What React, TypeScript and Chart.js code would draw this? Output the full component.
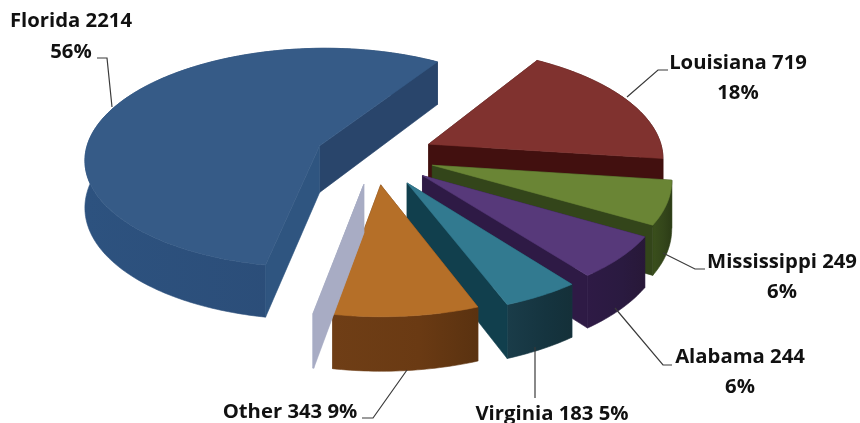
import React, { useEffect, useRef } from "react";
import { Chart, registerables } from "chart.js";

Chart.register(...registerables);

// Imports by origin state
const categories = ["Florida", "Louisiana", "Mississippi", "Alabama", "Virginia", "Other", ""];
const imports = [2214, 719, 249, 244, 183, 343, 2];
const shares = [56, 18, 6, 6, 5, 9, 0];

// Slice styling
const topColors = ["#365b87", "#80322f", "#6a8535", "#57397a", "#327a90", "#b56f28", "#a8acc4"];
const rimColors: string[][] = [
  ["#2d527f", "#2b4d78", "#264468"],
  ["#4a1413", "#42100f", "#3c0e0e"],
  ["#3a4f1c", "#33451a", "#2c3c16"],
  ["#2e1a45", "#2a1a40", "#281838"],
  ["#1a3c49", "#15343f", "#143039"],
  ["#6f3e16", "#6a3a13", "#5a3210"],
  ["#a8acc4", "#a8acc4", "#a8acc4"],
];
const startWallColors = ["#2f5580", "#42100f", "#33451a", "#2e1a45", "#113f4d", "#6a3a13", "#a8acc4"];
const endWallColors = ["#29456b", "#42100f", "#33451a", "#2e1a45", "#113f4d", "#6a3a13", "#a8acc4"];
const explode = [60, 60, 60, 62, 64, 60, 60];

// Pie projection
const RADIUS = 235;
const TILT = 0.47;
const PERSPECTIVE = 0.11;
const THICKNESS = 47;

// Callout text and leader lines
type Callout = { lines: string[]; x: number; y: number[]; leader: number[][] };
const callouts: Callout[] = [
  { lines: [`${categories[0]} ${imports[0]}`, `${shares[0]}%`], x: 71, y: [21, 52], leader: [[97, 58], [107, 58], [112, 107]] },
  { lines: [`${categories[1]} ${imports[1]}`, `${shares[1]}%`], x: 738, y: [63, 93], leader: [[668, 70], [658, 70], [627, 97]] },
  { lines: [`${categories[2]} ${imports[2]}`, `${shares[2]}%`], x: 782, y: [262, 292], leader: [[705, 269], [695, 269], [663, 253]] },
  { lines: [`${categories[3]} ${imports[3]}`, `${shares[3]}%`], x: 740, y: [357, 387], leader: [[672, 365], [663, 365], [615, 308]] },
  { lines: [`${categories[4]} ${imports[4]} ${shares[4]}%`], x: 552, y: [414], leader: [[535, 347], [535, 398]] },
  { lines: [`${categories[5]} ${imports[5]} ${shares[5]}%`], x: 290, y: [412], leader: [[407, 370], [373, 418], [362, 418]] },
];

type Pt = [number, number];

function sliceOutline(arc: any) {
  const o = arc.options.offset || 0;
  const mid = (arc.startAngle + arc.endAngle) / 2;
  const project = (px: number, py: number, lift: number): Pt => {
    const f = 1 / (1 - (PERSPECTIVE * py) / RADIUS);
    return [arc.x + px * f, arc.y + TILT * py * f + lift * f];
  };
  const ox = o * Math.cos(mid);
  const oy = o * Math.sin(mid);
  const rimAt = (a: number, lift: number) =>
    project(ox + arc.outerRadius * Math.cos(a), oy + arc.outerRadius * Math.sin(a), lift);
  const steps = Math.max(2, Math.ceil((arc.endAngle - arc.startAngle) * 60));
  const rim = (lift: number) => {
    const pts: Pt[] = [];
    for (let i = 0; i <= steps; i++) {
      pts.push(rimAt(arc.startAngle + ((arc.endAngle - arc.startAngle) * i) / steps, lift));
    }
    return pts;
  };
  return { tip: (lift: number) => project(ox, oy, lift), rim };
}

function fillPath(ctx: CanvasRenderingContext2D, pts: Pt[], fill: string | CanvasGradient) {
  ctx.beginPath();
  pts.forEach(([x, y], i) => (i ? ctx.lineTo(x, y) : ctx.moveTo(x, y)));
  ctx.closePath();
  ctx.fillStyle = fill;
  ctx.strokeStyle = fill;
  ctx.lineWidth = 0.6;
  ctx.fill();
  ctx.stroke();
}

// Replaces the flat arc drawing with an extruded, tilted version of the same arcs.
const extrudedPie = {
  id: "extrudedPie",
  beforeDatasetsDraw(chart: any) {
    const { ctx } = chart;
    const arcs = chart.getDatasetMeta(0).data;
    arcs.forEach((arc: any, i: number) => {
      const { tip, rim } = sliceOutline(arc);
      const topRim = rim(0);
      const lowRim = rim(THICKNESS);

      const a = topRim[0];
      const b = topRim[topRim.length - 1];
      const startWall = { pts: [tip(0), a, lowRim[0], tip(THICKNESS)] as Pt[], color: startWallColors[i], depth: a[1], front: Math.cos(arc.startAngle) < 0 };
      const endWall = { pts: [tip(0), b, lowRim[lowRim.length - 1], tip(THICKNESS)] as Pt[], color: endWallColors[i], depth: b[1], front: Math.cos(arc.endAngle) > 0 };
      const walls = [startWall, endWall].sort((p, q) => p.depth - q.depth);

      // Walls facing away go behind the rim, walls facing the viewer in front of it.
      walls.filter((w) => !w.front).forEach((w) => fillPath(ctx, w.pts, w.color));

      const xs = topRim.map((p) => p[0]);
      const grad = ctx.createLinearGradient(Math.min(...xs), 0, Math.max(...xs), 0);
      grad.addColorStop(0, rimColors[i][0]);
      grad.addColorStop(0.6, rimColors[i][1]);
      grad.addColorStop(1, rimColors[i][2]);
      fillPath(ctx, [...topRim, ...lowRim.slice().reverse()], grad);

      walls.filter((w) => w.front).forEach((w) => fillPath(ctx, w.pts, w.color));

      fillPath(ctx, [tip(0), ...topRim], topColors[i]);
    });
    return false;
  },
  afterDraw(chart: any) {
    const { ctx } = chart;
    ctx.save();
    ctx.strokeStyle = "#3a3a3a";
    ctx.lineWidth = 1.2;
    callouts.forEach((c) => {
      ctx.beginPath();
      c.leader.forEach(([x, y], i) => (i ? ctx.lineTo(x, y) : ctx.moveTo(x, y)));
      ctx.stroke();
    });
    ctx.fillStyle = "#111111";
    ctx.font = "bold 20.3px 'Open Sans'";
    ctx.textAlign = "center";
    ctx.textBaseline = "middle";
    callouts.forEach((c) => c.lines.forEach((t, i) => ctx.fillText(t, c.x, c.y[i])));
    ctx.restore();
  },
};

export default function App() {
  const ref = useRef<HTMLCanvasElement>(null);
  useEffect(() => {
    document.body.style.margin = "0";
    const chart = new Chart(ref.current!, {
      type: "pie",
      data: {
        labels: categories,
        datasets: [{ data: imports, backgroundColor: topColors, offset: explode, borderWidth: 0 } as any],
      },
      options: {
        responsive: false,
        animation: false,
        rotation: 190.5,
        radius: RADIUS,
        layout: { padding: { left: 0, top: 0, right: 110, bottom: 111 } },
        plugins: { legend: { display: false }, tooltip: { enabled: false } },
      } as any,
      plugins: [extrudedPie],
    });
    return () => chart.destroy();
  }, []);
  return <canvas ref={ref} width={860} height={423} style={{ display: "block" }} />;
}
